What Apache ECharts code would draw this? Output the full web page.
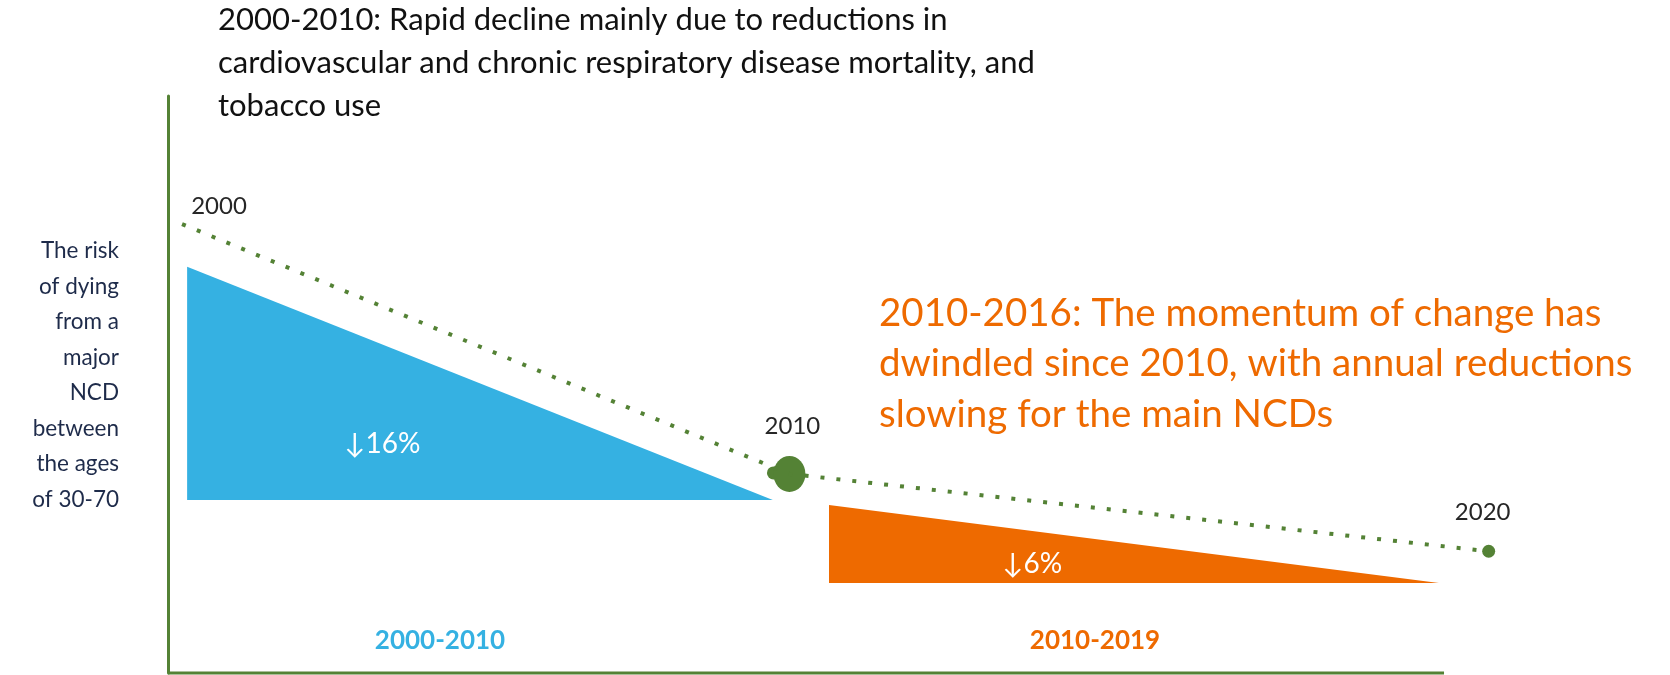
<!DOCTYPE html>
<html><head><meta charset="utf-8">
<script src="https://cdn.jsdelivr.net/npm/echarts@6/dist/echarts.min.js"></script>
<style>html,body{margin:0;padding:0;background:#fff}#c{width:1670px;height:675px}</style>
</head><body><div id="c"></div>
<script>
// ---- data (schematic units: x 0-100 along the time axis, y 0-100 risk level) ----
const years = ['2000', '2010', '2020'];
const trendX = [1.1, 48.7, 103.5];
const trendY = [77.8, 34.5, 21.1];
const periods = ['2000-2010', '2010-2019'];
const changes = ['↓16%', '↓6%'];
const triStartX = [1.5, 51.8];
const triEndX = [47.4, 99.6];
const triTopY = [70.4, 29.1];
const triBaseY = [30.0, 15.6];
const axisX = [0, 100];
const titleLines = [
  '2000-2010: Rapid decline mainly due to reductions in',
  'cardiovascular and chronic respiratory disease mortality, and',
  'tobacco use'
];
const noteLines = [
  '2010-2016: The momentum of change has',
  'dwindled since 2010, with annual reductions',
  'slowing for the main NCDs'
];
const yLabelLines = ['The risk', 'of dying', 'from a', 'major', 'NCD', 'between', 'the ages', 'of 30-70'];

const GREEN = '#548235', BLUE = '#35B1E2', ORANGE = '#EE6A00';
const FONT = 'Lato, "Noto Sans", sans-serif';
const triColors = [BLUE, ORANGE];

const chart = echarts.init(document.getElementById('c'));
const markerSizes = [0, [32, 36], 13];
const labelOffsets = [[37, -18], [3, -48], [-6, -39]];

chart.setOption({
  animation: false,
  grid: { left: 168, top: 96, width: 1502, bottom: 2 },
  xAxis: {
    type: 'value', min: 0, max: 117.71,
    axisLine: { show: false },
    axisTick: { show: false }, axisLabel: { show: false }, splitLine: { show: false }
  },
  yAxis: {
    type: 'value', min: 0, max: 100,
    axisLine: { show: true, lineStyle: { color: GREEN, width: 3 } },
    axisTick: { show: false }, axisLabel: { show: false }, splitLine: { show: false }
  },
  series: [
    {
      type: 'line',
      data: axisX.map(x => [x, 0]),
      symbol: 'none',
      clip: false,
      lineStyle: { color: GREEN, width: 3 },
      z: 3
    },
    {
      type: 'custom',
      clip: false,
      data: triStartX.map((x, i) => [x, triEndX[i], triTopY[i], triBaseY[i]]),
      renderItem: (params, api) => {
        const i = params.dataIndex;
        const a = api.coord([api.value(0), api.value(2)]);
        const b = api.coord([api.value(0), api.value(3)]);
        const c = api.coord([api.value(1), api.value(3)]);
        const cx = (a[0] + b[0] + c[0]) / 3, cy = (a[1] + b[1] + c[1]) / 3;
        return {
          type: 'group',
          children: [
            { type: 'polygon', shape: { points: [a, b, c] }, style: { fill: triColors[i] } },
            { type: 'text', x: cx, y: cy + (b[1] - cy) * 0.28,
              style: { text: changes[i], fill: '#fff', font: '28px ' + FONT, align: 'center', verticalAlign: 'middle' } }
          ]
        };
      }
    },
    {
      type: 'line',
      clip: false,
      data: trendX.map((x, i) => [x, trendY[i]]),
      symbol: 'none',
      lineStyle: { color: GREEN, width: 4, type: [4, 12] }
    },
    {
      type: 'scatter',
      clip: false,
      data: [[trendX[1], trendY[1]]],
      symbolSize: 13,
      symbolOffset: [-16, -1],
      itemStyle: { color: GREEN, opacity: 1 }
    },
    {
      type: 'scatter',
      clip: false,
      data: trendX.map((x, i) => ({
        value: [x, trendY[i]],
        symbolSize: markerSizes[i],
        label: { offset: labelOffsets[i] }
      })),
      itemStyle: { color: GREEN, opacity: 1 },
      label: {
        show: true, position: 'inside',
        formatter: p => years[p.dataIndex],
        color: '#262626', fontFamily: FONT, fontSize: 24
      }
    }
  ],
  graphic: [
    { type: 'text', left: 218, top: -2,
      style: { text: titleLines.join('\n'), font: '31px ' + FONT, lineHeight: 43, fill: '#111' } },
    { type: 'text', left: 879, top: 288,
      style: { text: noteLines.join('\n'), font: '38.5px ' + FONT, lineHeight: 50.5, fill: ORANGE } },
    { type: 'text', x: 119, y: 233,
      style: { text: yLabelLines.join('\n'), font: '22.5px ' + FONT, lineHeight: 35.5, fill: '#1e2b4a', align: 'right' } },
    { type: 'text', x: 440, y: 641,
      style: { text: periods[0], font: 'bold 26px ' + FONT, fill: BLUE, align: 'center', verticalAlign: 'middle' } },
    { type: 'text', x: 1095, y: 641,
      style: { text: periods[1], font: 'bold 26px ' + FONT, fill: ORANGE, align: 'center', verticalAlign: 'middle' } }
  ]
});
</script>
</body></html>
